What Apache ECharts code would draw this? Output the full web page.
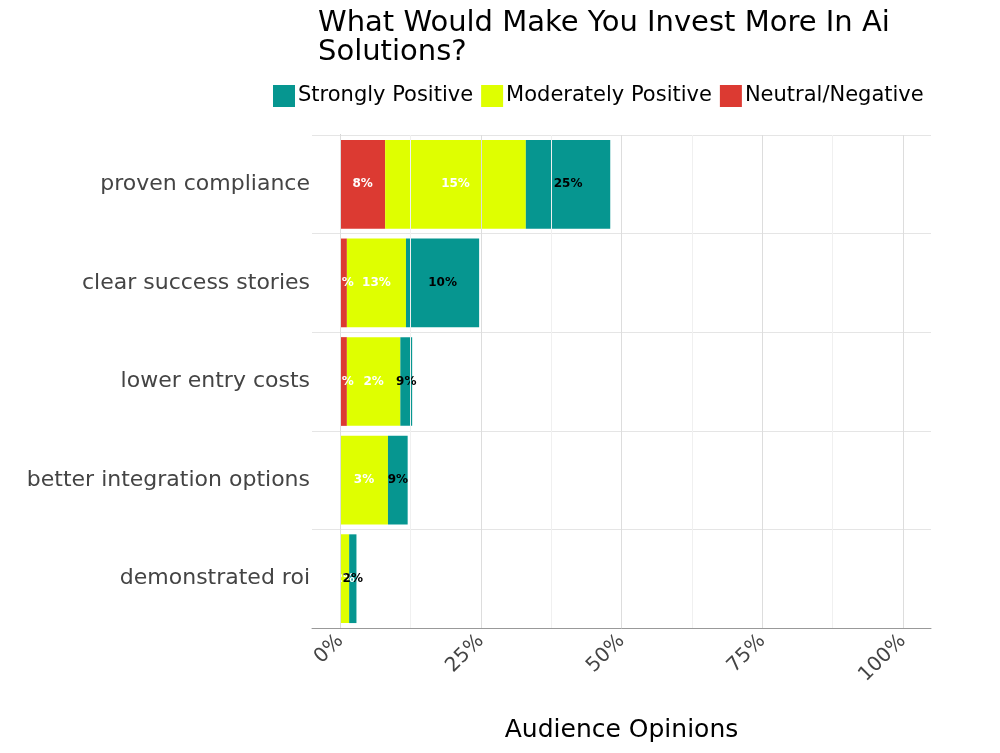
<!DOCTYPE html>
<html>
<head>
<meta charset="utf-8">
<script src="https://cdn.jsdelivr.net/npm/echarts@6/dist/echarts.min.js"></script>
<style>html,body{margin:0;background:#fff}#chart{width:1000px;height:753px}</style>
</head>
<body>
<div id="chart"></div>
<script>
var categories = ['proven compliance', 'clear success stories', 'lower entry costs', 'better integration options', 'demonstrated roi'];
var neutralVals = [8, 1.2, 1.2, 0, 0];
var moderateVals = [25, 10.5, 9.5, 8.5, 1.6];
var strongVals = [15, 13, 2.1, 3.5, 1.3];
var neutralLabels = ['8%', '1%', '1%', '', ''];
var moderateLabels = ['15%', '13%', '2%', '3%', '2%'];
var strongLabels = ['25%', '10%', '9%', '9%', '2%'];
var majorTicks = [0, 25, 50, 75, 100];
var minorTicks = [12.5, 37.5, 62.5, 87.5];

var chart = echarts.init(document.getElementById('chart'));
var font = 'DejaVu Sans';

function makeSeries(name, vals, labels, color, textColor) {
    return {
        name: name, type: 'bar', stack: 'all', barCategoryGap: '10%',
        itemStyle: { color: color },
        data: vals.map(function (v, i) { return { value: v, lbl: labels[i] }; }),
        label: {
            show: true, position: 'inside', color: textColor, fontWeight: 'bold',
            fontSize: 12, fontFamily: font,
            formatter: function (p) { return p.data.lbl; }
        }
    };
}

var option = {
    textStyle: { fontFamily: font },
    title: {
        text: 'What Would Make You Invest More In Ai\nSolutions?',
        left: 313, top: 4,
        textStyle: { fontSize: 29, fontWeight: 'normal', color: '#000', lineHeight: 29, fontFamily: font }
    },
    legend: {
        data: ['Strongly Positive', 'Moderately Positive', 'Neutral/Negative'],
        left: 268, top: 80, itemWidth: 22, itemHeight: 22, itemGap: 8,
        icon: 'rect',
        textStyle: { fontSize: 21, color: '#000', fontFamily: font, padding: [0, 0, 0, -2] }
    },
    grid: { left: 312, right: 69, top: 135, bottom: 125, containLabel: false },
    xAxis: {
        type: 'value', min: -5, max: 105, interval: 5,
        name: 'Audience Opinions', nameLocation: 'middle', nameGap: 90,
        nameTextStyle: { fontSize: 25, color: '#000', fontFamily: font },
        axisLine: { show: true, lineStyle: { color: '#999' } },
        axisTick: { show: false },
        splitLine: { show: false },
        axisLabel: {
            rotate: 45, fontSize: 20, color: '#444', margin: 10,
            formatter: function (v) { return majorTicks.indexOf(v) >= 0 ? v + '%' : ''; }
        }
    },
    yAxis: {
        type: 'category', data: categories, inverse: true,
        axisLine: { show: true, lineStyle: { color: '#999' } },
        axisTick: { show: false },
        splitLine: { show: true, lineStyle: { color: '#e5e5e5' } },
        axisLabel: { fontSize: 22, color: '#444', margin: 2 }
    },
    series: [
        makeSeries('Neutral/Negative', neutralVals, neutralLabels, '#DC3A32', '#fff'),
        makeSeries('Moderately Positive', moderateVals, moderateLabels, '#DFFF00', '#fff'),
        makeSeries('Strongly Positive', strongVals, strongLabels, '#069690', '#000'),
        {
            type: 'line', data: [], silent: true, z: 0,
            markLine: {
                symbol: 'none', silent: true, label: { show: false },
                data: majorTicks.map(function (t) { return { xAxis: t, lineStyle: { color: '#ddd', type: 'solid', width: 1 } }; })
                    .concat(minorTicks.map(function (t) { return { xAxis: t, lineStyle: { color: '#f0f0f0', type: 'solid', width: 1 } }; }))
            }
        }
    ]
};
option && chart.setOption(option);
</script>
</body>
</html>
